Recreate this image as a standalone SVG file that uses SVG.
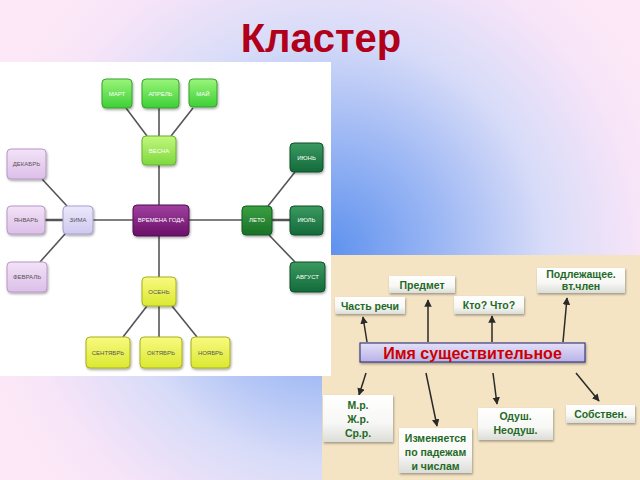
<svg xmlns="http://www.w3.org/2000/svg" width="640" height="480" viewBox="0 0 640 480">
<defs>
<radialGradient id="bg" gradientUnits="userSpaceOnUse" cx="330" cy="250" r="360">
<stop offset="0" stop-color="#5f92ee"/>
<stop offset="0.3" stop-color="#9ab6f4"/>
<stop offset="0.6" stop-color="#d8dcf8"/>
<stop offset="0.85" stop-color="#f6e4f8"/>
<stop offset="1" stop-color="#fce8f6"/>
</radialGradient>
<linearGradient id="gSpring" x1="0" y1="0" x2="0" y2="1"><stop offset="0" stop-color="#9af57a"/><stop offset="1" stop-color="#3ccf36"/></linearGradient>
<linearGradient id="gSpring2" x1="0" y1="0" x2="0" y2="1"><stop offset="0" stop-color="#c2f77e"/><stop offset="1" stop-color="#7ed93c"/></linearGradient>
<linearGradient id="gWinter" x1="0" y1="0" x2="0" y2="1"><stop offset="0" stop-color="#f3e2f7"/><stop offset="1" stop-color="#dcbfe8"/></linearGradient>
<linearGradient id="gWinter2" x1="0" y1="0" x2="0" y2="1"><stop offset="0" stop-color="#ece8fb"/><stop offset="1" stop-color="#cfc8f0"/></linearGradient>
<linearGradient id="gCenter" x1="0" y1="0" x2="0" y2="1"><stop offset="0" stop-color="#a040a0"/><stop offset="1" stop-color="#6a1068"/></linearGradient>
<linearGradient id="gSummer" x1="0" y1="0" x2="0" y2="1"><stop offset="0" stop-color="#3a9a60"/><stop offset="1" stop-color="#146a3a"/></linearGradient>
<linearGradient id="gSummer2" x1="0" y1="0" x2="0" y2="1"><stop offset="0" stop-color="#3aa040"/><stop offset="1" stop-color="#1a7028"/></linearGradient>
<linearGradient id="gAutumn" x1="0" y1="0" x2="0" y2="1"><stop offset="0" stop-color="#f8fa80"/><stop offset="1" stop-color="#dbe830"/></linearGradient>
<linearGradient id="gCard" x1="0" y1="0" x2="0" y2="1"><stop offset="0" stop-color="#ffffff"/><stop offset="0.6" stop-color="#f7f7f5"/><stop offset="1" stop-color="#dcdcd8"/></linearGradient>
<linearGradient id="gMain" x1="0" y1="0" x2="0" y2="1"><stop offset="0" stop-color="#e4e0f8"/><stop offset="1" stop-color="#b8b2e6"/></linearGradient>
<marker id="ah" viewBox="0 0 10 10" refX="9" refY="5" markerWidth="5" markerHeight="5" orient="auto"><path d="M0,0 L10,5 L0,10 z" fill="#2a2a2a"/></marker>
<filter id="sh" x="-10%" y="-10%" width="130%" height="140%"><feDropShadow dx="0.8" dy="1.5" stdDeviation="0.8" flood-color="#000" flood-opacity="0.35"/></filter>
</defs>
<style>
.n rect{rx:4px;ry:4px;filter:url(#sh);stroke-width:1}
.sp rect{fill:url(#gSpring);stroke:#3aa030}
.sp2 rect{fill:url(#gSpring2);stroke:#6ab030}
.wi rect{fill:url(#gWinter);stroke:#b898c8}
.wi2 rect{fill:url(#gWinter2);stroke:#a8a0d0}
.ce rect{fill:url(#gCenter);stroke:#50104e}
.su rect{fill:url(#gSummer);stroke:#0e5028}
.su2 rect{fill:url(#gSummer2);stroke:#105a1e}
.au rect{fill:url(#gAutumn);stroke:#a8b020}
.n text{font-family:"Liberation Sans",Arial,sans-serif;font-size:6px;text-anchor:middle}
.lt text{fill:#ffffff}
.dk text{fill:#555555}
.cl line{stroke:#555;stroke-width:1.6}
.card rect{fill:url(#gCard);filter:url(#sh)}
.card text{font-family:"Liberation Sans",Arial,sans-serif;font-weight:bold;font-size:10.5px;fill:#1e6a26;text-anchor:middle}
.ar line{stroke:#2a2a2a;stroke-width:1.5;marker-end:url(#ah)}
</style>
<rect x="0" y="0" width="640" height="480" fill="url(#bg)"/>
<text x="321" y="52" font-family="'Liberation Sans',Arial,sans-serif" font-weight="bold" font-size="40" fill="#b0001a" text-anchor="middle">Кластер</text>

<rect x="322" y="255" width="318" height="225" fill="#f4e4c4"/>
<rect x="0" y="62" width="331" height="314" fill="#ffffff"/>

<g id="cluster-connectors" class="cl">
<line x1="147" y1="136" x2="126" y2="108"/>
<line x1="159" y1="108" x2="159" y2="136"/>
<line x1="171" y1="136" x2="193" y2="108"/>
<line x1="159" y1="165" x2="159" y2="205"/>
<line x1="42" y1="179" x2="67" y2="206"/>
<line x1="45" y1="220" x2="63" y2="220" style="stroke-width:2.5"/>
<line x1="65" y1="234" x2="40" y2="262"/>
<line x1="93" y1="220" x2="133" y2="220"/>
<line x1="189" y1="220" x2="242" y2="220"/>
<line x1="268" y1="206" x2="295" y2="172"/>
<line x1="272" y1="220" x2="290" y2="220" style="stroke-width:2.5"/>
<line x1="269" y1="235" x2="295" y2="262"/>
<line x1="159" y1="236" x2="159" y2="277"/>
<line x1="147" y1="306" x2="123" y2="337"/>
<line x1="159" y1="306" x2="159" y2="337"/>
<line x1="172" y1="306" x2="197" y2="337"/>
</g>

<g id="n-mart" class="n sp lt"><rect x="102" y="79" width="30" height="29"/><text x="117" y="96">МАРТ</text></g>
<g id="n-aprel" class="n sp lt"><rect x="142" y="79" width="37" height="29"/><text x="160.5" y="96">АПРЕЛЬ</text></g>
<g id="n-mai" class="n sp lt"><rect x="189" y="79" width="28" height="28"/><text x="203" y="96">МАЙ</text></g>
<g id="n-vesna" class="n sp2 lt"><rect x="142" y="136" width="34" height="29"/><text x="159" y="153">ВЕСНА</text></g>
<g id="n-dekabr" class="n wi dk"><rect x="7" y="149" width="39" height="30"/><text x="26.5" y="166">ДЕКАБРЬ</text></g>
<g id="n-yanvar" class="n wi dk"><rect x="7" y="206" width="38" height="28"/><text x="26" y="222">ЯНВАРЬ</text></g>
<g id="n-fevral" class="n wi dk"><rect x="7" y="262" width="40" height="30"/><text x="27" y="279">ФЕВРАЛЬ</text></g>
<g id="n-zima" class="n wi2 dk"><rect x="63" y="206" width="30" height="28"/><text x="78" y="222">ЗИМА</text></g>
<g id="n-center" class="n ce lt"><rect x="133" y="205" width="56" height="31"/><text x="161" y="222">ВРЕМЕНА ГОДА</text></g>
<g id="n-leto" class="n su2 lt"><rect x="242" y="206" width="30" height="29"/><text x="257" y="222">ЛЕТО</text></g>
<g id="n-iyun" class="n su lt"><rect x="290" y="143" width="33" height="29"/><text x="306.5" y="160">ИЮНЬ</text></g>
<g id="n-iyul" class="n su lt"><rect x="290" y="206" width="33" height="29"/><text x="306.5" y="222">ИЮЛЬ</text></g>
<g id="n-avgust" class="n su lt"><rect x="290" y="262" width="35" height="30"/><text x="307.5" y="279">АВГУСТ</text></g>
<g id="n-osen" class="n au dk"><rect x="142" y="277" width="34" height="29"/><text x="159" y="294">ОСЕНЬ</text></g>
<g id="n-sentyabr" class="n au dk"><rect x="86" y="337" width="44" height="31"/><text x="108" y="355">СЕНТЯБРЬ</text></g>
<g id="n-oktyabr" class="n au dk"><rect x="140" y="337" width="42" height="31"/><text x="161" y="355">ОКТЯБРЬ</text></g>
<g id="n-noyabr" class="n au dk"><rect x="191" y="337" width="39" height="31"/><text x="210.5" y="355">НОЯБРЬ</text></g>

<g id="arrows" class="ar">
<line x1="367" y1="342" x2="363" y2="317"/>
<line x1="428" y1="342" x2="428" y2="300"/>
<line x1="492" y1="342" x2="492" y2="316"/>
<line x1="563" y1="342" x2="567" y2="298"/>
<line x1="366" y1="373" x2="359" y2="395"/>
<line x1="426" y1="373" x2="437" y2="426"/>
<line x1="493" y1="373" x2="497" y2="404"/>
<line x1="576" y1="373" x2="599" y2="401"/>
</g>

<g id="c-predmet" class="card"><rect x="389" y="276" width="66" height="17"/><text x="422" y="288.5">Предмет</text></g>
<g id="c-chast" class="card"><rect x="335" y="297" width="70" height="17"/><text x="370" y="309.5">Часть речи</text></g>
<g id="c-kto" class="card"><rect x="454" y="296" width="70" height="18"/><text x="489" y="309">Кто? Что?</text></g>
<g id="c-podl" class="card"><rect x="537" y="268" width="88" height="25"/><text x="581" y="278">Подлежащее.</text><text x="581" y="289.5">вт.член</text></g>
<g id="c-main"><rect x="360" y="343" width="225" height="19" fill="url(#gMain)" stroke="#3c3c80" stroke-width="1.2" filter="url(#sh)"/><text x="472.5" y="358.5" font-family="'Liberation Sans',Arial,sans-serif" font-weight="bold" font-size="16" fill="#cc0000" text-anchor="middle">Имя существительное</text></g>
<g id="c-rod" class="card"><rect x="323" y="395" width="70" height="47"/><text x="358" y="409">М.р.</text><text x="358" y="423">Ж.р.</text><text x="358" y="437">Ср.р.</text></g>
<g id="c-izm" class="card"><rect x="399" y="428" width="73" height="45"/><text x="435.5" y="442">Изменяется</text><text x="435.5" y="456">по падежам</text><text x="435.5" y="470">и числам</text></g>
<g id="c-odush" class="card"><rect x="478" y="408" width="75" height="32"/><text x="515.5" y="420">Одуш.</text><text x="515.5" y="434">Неодуш.</text></g>
<g id="c-sobst" class="card"><rect x="566" y="405" width="69" height="18"/><text x="600.5" y="417.5">Собствен.</text></g>
</svg>
